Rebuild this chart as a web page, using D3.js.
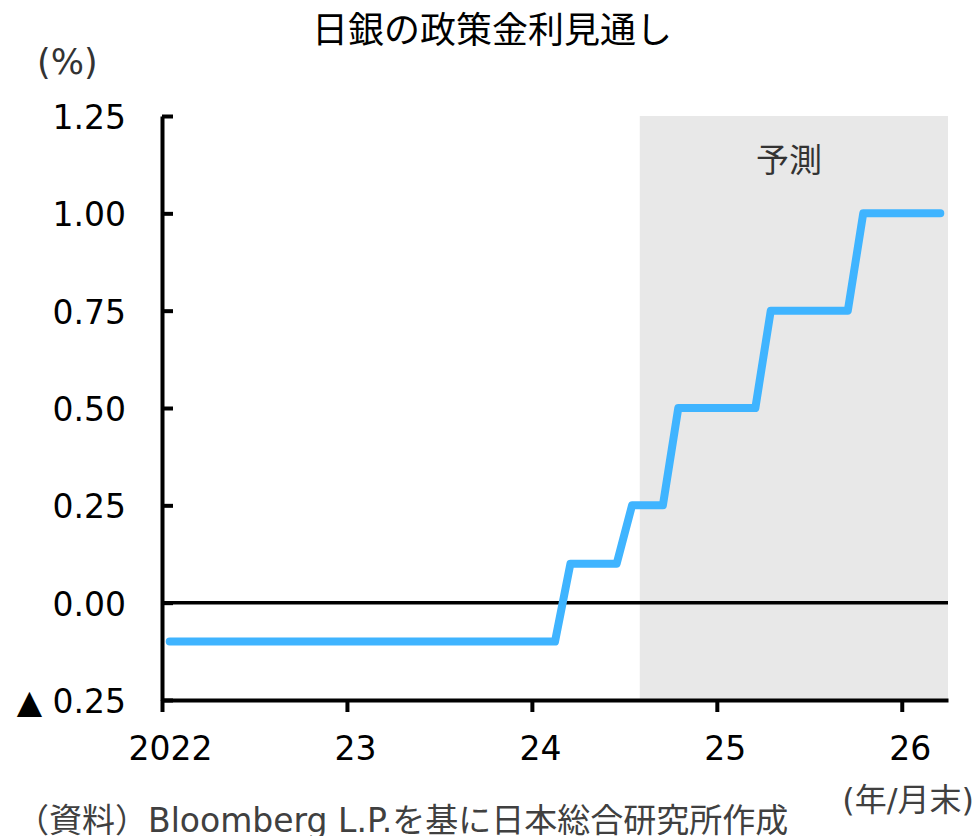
<!DOCTYPE html>
<html>
<head>
<meta charset="utf-8">
<script src="https://cdn.jsdelivr.net/npm/d3@7/dist/d3.min.js"></script>
<style>
  html, body { margin: 0; padding: 0; background: #fff; }
  svg { display: block; }
  text { font-family: "DejaVu Sans", "Noto Sans CJK JP", sans-serif; }
</style>
</head>
<body>
<svg id="chart" width="977" height="836"></svg>
<script>
// Monthly policy-rate path, Jan 2022 through Mar 2026 (month-end, %)
const rates = [
  -0.1, -0.1, -0.1, -0.1, -0.1, -0.1, -0.1, -0.1, -0.1, -0.1, -0.1, -0.1, // 2022
  -0.1, -0.1, -0.1, -0.1, -0.1, -0.1, -0.1, -0.1, -0.1, -0.1, -0.1, -0.1, // 2023
  -0.1, -0.1, 0.1, 0.1, 0.1, 0.1, 0.25, 0.25, 0.25, 0.5, 0.5, 0.5,       // 2024
  0.5, 0.5, 0.5, 0.75, 0.75, 0.75, 0.75, 0.75, 0.75, 1.0, 1.0, 1.0,      // 2025
  1.0, 1.0, 1.0                                                           // 2026
];
const monthCount = 51;            // Jan 2022 .. Mar 2026
const forecastStart = 31;         // Aug 2024 onward is projection
const yearTickMonths = [0, 12, 24, 36, 48];
const yearTickLabels = ["2022", "23", "24", "25", "26"];
const yTickValues = [-0.25, 0, 0.25, 0.5, 0.75, 1.0, 1.25];
const yTickLabels = ["▲ 0.25", "0.00", "0.25", "0.50", "0.75", "1.00", "1.25"];

const svg = d3.select("#chart");
const plotLeft = 162, plotRight = 948, plotTop = 116, plotBottom = 700;

const x = d3.scaleLinear().domain([0, monthCount]).range([plotLeft, plotRight]);
const y = d3.scaleLinear().domain([-0.25, 1.25]).range([plotBottom, plotTop]);

// forecast shading
svg.append("rect")
  .attr("x", x(forecastStart)).attr("y", y(1.25))
  .attr("width", x(monthCount) - x(forecastStart))
  .attr("height", y(-0.25) - y(1.25))
  .attr("fill", "#e8e8e8");

// zero line
svg.append("line")
  .attr("x1", x(0)).attr("x2", x(monthCount))
  .attr("y1", y(0)).attr("y2", y(0))
  .attr("stroke", "#000").attr("stroke-width", 3.5);

// rate path
const line = d3.line()
  .x((d, i) => x(i + 0.5))
  .y(d => y(d));
svg.append("path")
  .datum(rates)
  .attr("d", line)
  .attr("fill", "none")
  .attr("stroke", "#3fb4ff")
  .attr("stroke-width", 8)
  .attr("stroke-linejoin", "round")
  .attr("stroke-linecap", "round");

// y axis
const yAxis = d3.axisLeft(y)
  .tickValues(yTickValues)
  .tickFormat((d, i) => yTickLabels[i])
  .tickSizeInner(-11)
  .tickSizeOuter(0)
  .tickPadding(36);
const gy = svg.append("g").attr("transform", `translate(${plotLeft},0)`).call(yAxis);
gy.select(".domain").attr("stroke", "#000").attr("stroke-width", 4);
gy.selectAll(".tick line").attr("stroke", "#000").attr("stroke-width", 4);
gy.selectAll(".tick text")
  .attr("fill", "#000").attr("font-size", 33)
  .attr("dy", "0.38em");

// x axis
const xAxis = d3.axisBottom(x)
  .tickValues(yearTickMonths)
  .tickFormat((d, i) => yearTickLabels[i])
  .tickSizeInner(12)
  .tickSizeOuter(0)
  .tickPadding(25);
const gx = svg.append("g").attr("transform", `translate(0,${plotBottom})`).call(xAxis);
gx.select(".domain").attr("stroke", "#000").attr("stroke-width", 4);
gx.selectAll(".tick line").attr("stroke", "#000").attr("stroke-width", 4);
gx.selectAll(".tick text")
  .attr("fill", "#000").attr("font-size", 33)
  .attr("dx", 8);

// titles and notes
svg.append("text")
  .attr("x", 492).attr("y", 43)
  .attr("text-anchor", "middle")
  .attr("font-size", 36).attr("fill", "#000")
  .text("日銀の政策金利見通し");

svg.append("text")
  .attr("x", 37).attr("y", 74)
  .attr("font-size", 35).attr("fill", "#333")
  .text("(%)");

svg.append("text")
  .attr("x", 789).attr("y", 172)
  .attr("text-anchor", "middle")
  .attr("font-size", 33).attr("fill", "#333")
  .text("予測");

svg.append("text")
  .attr("x", 974).attr("y", 811)
  .attr("text-anchor", "end")
  .attr("font-size", 32).attr("fill", "#404040")
  .text("(年/月末)");

svg.append("text")
  .attr("x", 16).attr("y", 832)
  .attr("font-size", 33).attr("fill", "#404040")
  .text("（資料）Bloomberg L.P.を基に日本総合研究所作成");
</script>
</body>
</html>
